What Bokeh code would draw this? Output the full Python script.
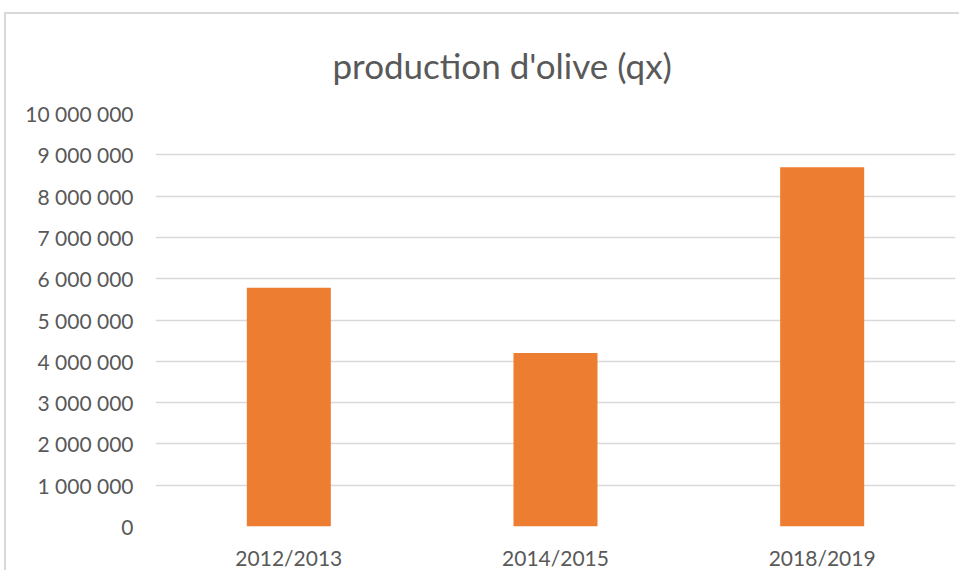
from bokeh.plotting import figure
from bokeh.models import Range1d, FixedTicker, CustomJSTickFormatter, Title, Spacer
from bokeh.layouts import column, row
from bokeh.embed import file_html
from bokeh.resources import INLINE

categories = ["2012/2013", "2014/2015", "2018/2019"]
production = [5780000, 4200000, 8700000]
y_ticks = [0, 1000000, 2000000, 3000000, 4000000, 5000000,
           6000000, 7000000, 8000000, 9000000, 10000000]
title_text = "production d'olive (qx)"

FONT = "Lato"
TXT = "#595959"
GRID = "#d9d9d9"

p = figure(x_range=categories, y_range=Range1d(0, 10000000),
           width=955, height=558, output_backend="svg", toolbar_location=None,
           min_border_left=149, min_border_right=6, min_border_top=98, min_border_bottom=45)

p.vbar(x=categories, top=production, width=0.315, color="#ED7D31", line_color=None)

t = Title(text=title_text, align="left", offset=177,
          text_font=FONT, text_font_size="35px", text_font_style="normal",
          text_color=TXT, standoff=55)
p.add_layout(t, "above")

p.outline_line_color = None
p.xgrid.grid_line_color = None
p.ygrid.grid_line_color = GRID
p.ygrid.grid_line_width = 1.5
p.yaxis.ticker = FixedTicker(ticks=y_ticks)
p.yaxis.formatter = CustomJSTickFormatter(
    code="return Math.round(tick).toString().replace(/\\B(?=(\\d{3})+(?!\\d))/g, ' ');")

for ax in (p.xaxis[0], p.yaxis[0]):
    ax.axis_line_color = None
    ax.major_tick_line_color = None
    ax.minor_tick_line_color = None
    ax.major_tick_out = 0
    ax.major_tick_in = 0
    ax.minor_tick_out = 0
    ax.minor_tick_in = 0
    ax.major_label_text_font = FONT
    ax.major_label_text_font_size = "21px"
    ax.major_label_text_color = TXT

p.yaxis.major_label_standoff = 22
p.xaxis.major_label_standoff = 18

p.styles = {"border-left": "2px solid #d9d9d9", "border-top": "2px solid #d9d9d9"}

layout = column(Spacer(height=12), row(Spacer(width=4), p))

open("out.html", "w").write(file_html(layout, INLINE))
